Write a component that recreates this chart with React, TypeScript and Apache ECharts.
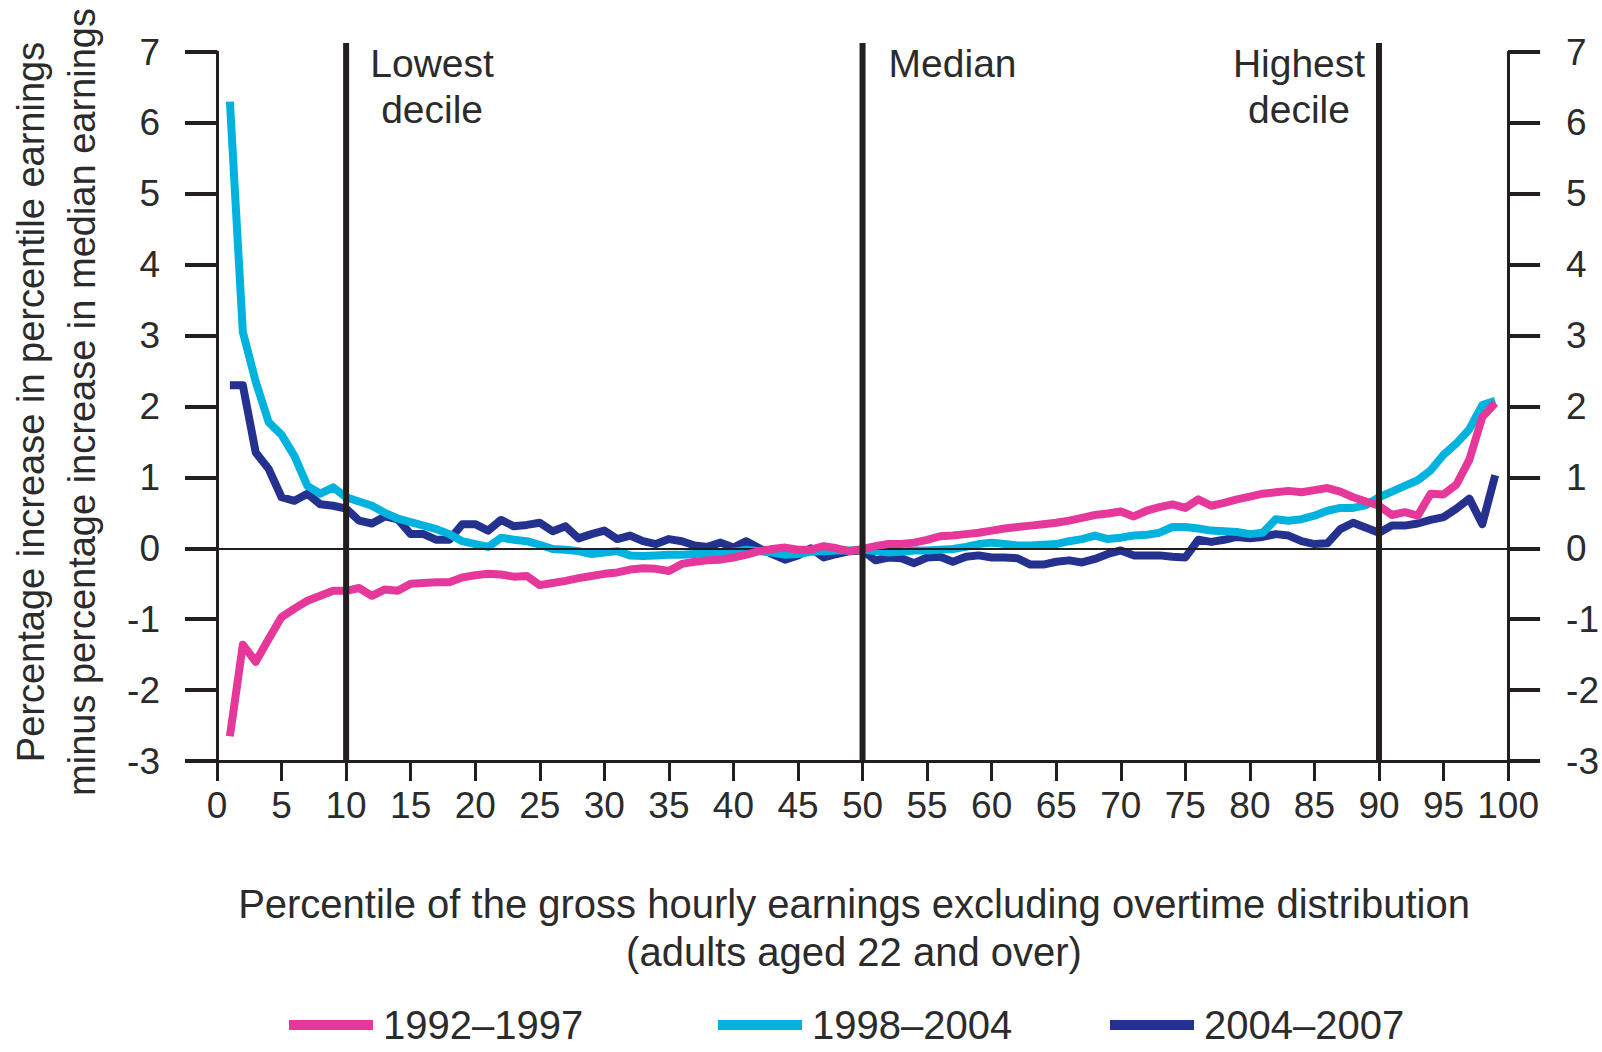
import React, { useEffect, useRef } from "react";
import * as echarts from "echarts";

const percentiles = [
  1, 2, 3, 4, 5, 6, 7, 8, 9, 10, 11, 12, 13, 14, 15, 16, 17, 18, 19, 20,
  21, 22, 23, 24, 25, 26, 27, 28, 29, 30, 31, 32, 33, 34, 35, 36, 37, 38, 39, 40,
  41, 42, 43, 44, 45, 46, 47, 48, 49, 50, 51, 52, 53, 54, 55, 56, 57, 58, 59, 60,
  61, 62, 63, 64, 65, 66, 67, 68, 69, 70, 71, 72, 73, 74, 75, 76, 77, 78, 79, 80,
  81, 82, 83, 84, 85, 86, 87, 88, 89, 90, 91, 92, 93, 94, 95, 96, 97, 98, 99,
];

const s1992_1997 = [
  -2.65, -1.36, -1.6, -1.28, -0.97, -0.85, -0.74, -0.67, -0.6, -0.6,
  -0.56, -0.67, -0.58, -0.6, -0.5, -0.49, -0.48, -0.48, -0.41, -0.38,
  -0.36, -0.37, -0.4, -0.39, -0.52, -0.49, -0.46, -0.42, -0.39, -0.36,
  -0.34, -0.3, -0.28, -0.29, -0.32, -0.22, -0.19, -0.17, -0.16, -0.13,
  -0.09, -0.04, -0.01, 0.01, -0.02, -0.02, 0.03, 0.0, -0.04, -0.01,
  0.03, 0.06, 0.06, 0.08, 0.12, 0.17, 0.18, 0.2, 0.22, 0.25,
  0.28, 0.3, 0.32, 0.34, 0.36, 0.39, 0.43, 0.47, 0.49, 0.52,
  0.45, 0.53, 0.58, 0.62, 0.57, 0.69, 0.6, 0.64, 0.69, 0.73,
  0.77, 0.79, 0.81, 0.79, 0.82, 0.85, 0.8, 0.72, 0.66, 0.6,
  0.47, 0.51, 0.46, 0.77, 0.76, 0.9, 1.25, 1.85, 2.05,
];

const s1998_2004 = [
  6.3, 3.05, 2.35, 1.78, 1.6, 1.3, 0.88, 0.77, 0.86, 0.72,
  0.66, 0.6, 0.5, 0.42, 0.37, 0.32, 0.27, 0.2, 0.1, 0.06,
  0.02, 0.15, 0.12, 0.1, 0.05, -0.01, -0.02, -0.04, -0.08, -0.06,
  -0.04, -0.1, -0.11, -0.1, -0.09, -0.09, -0.08, -0.07, -0.06, -0.05,
  -0.02, -0.04, -0.06, -0.09, -0.08, -0.05, -0.04, -0.03, -0.03, -0.02,
  -0.04, -0.06, -0.05, -0.03, -0.03, -0.02, -0.01, 0.02, 0.06, 0.08,
  0.06, 0.04, 0.04, 0.05, 0.06, 0.1, 0.13, 0.18, 0.13, 0.15,
  0.18, 0.19, 0.22, 0.3, 0.3, 0.28, 0.25, 0.24, 0.23, 0.2,
  0.22, 0.41, 0.39, 0.41, 0.46, 0.53, 0.57, 0.57, 0.61, 0.72,
  0.8, 0.88, 0.96, 1.1, 1.32, 1.48, 1.68, 2.02, 2.08,
];

const s2004_2007 = [
  2.3, 2.3, 1.35, 1.12, 0.72, 0.67, 0.77, 0.62, 0.6, 0.56,
  0.39, 0.35, 0.45, 0.41, 0.2, 0.2, 0.12, 0.12, 0.34, 0.34,
  0.25, 0.4, 0.31, 0.33, 0.36, 0.24, 0.31, 0.14, 0.2, 0.25,
  0.13, 0.18, 0.1, 0.06, 0.13, 0.1, 0.04, 0.02, 0.08, 0.01,
  0.1, 0.0, -0.08, -0.16, -0.1, 0.0, -0.13, -0.08, -0.04, -0.03,
  -0.17, -0.13, -0.14, -0.21, -0.13, -0.12, -0.19, -0.12, -0.1, -0.13,
  -0.13, -0.14, -0.23, -0.23, -0.19, -0.17, -0.2, -0.15, -0.08, -0.03,
  -0.1, -0.1, -0.1, -0.12, -0.13, 0.12, 0.09, 0.12, 0.16, 0.14,
  0.16, 0.2, 0.18, 0.1, 0.06, 0.07, 0.27, 0.36, 0.29, 0.22,
  0.32, 0.32, 0.35, 0.4, 0.44, 0.56, 0.7, 0.34, 1.03,
];

const seriesNames = ["1992\u20131997", "1998\u20132004", "2004\u20132007"];
const seriesColors = ["#E5389A", "#00B3DE", "#24318F"];

const decileMarks = [10, 50, 90];
const decileLabels = ["Lowest\ndecile", "Median", "Highest\ndecile"];

const xMin = 0;
const xMax = 100;
const xInterval = 5;
const yMin = -3;
const yMax = 7;
const yInterval = 1;

const yAxisTitle =
  "Percentage increase in percentile earnings\nminus percentage increase in median earnings";
const xAxisTitle =
  "Percentile of the gross hourly earnings excluding overtime distribution\n(adults aged 22 and over)";

const FONT = "'Liberation Sans', Arial, Helvetica, sans-serif";
const INK = "#231f20";
const TEXT = "#2b2b2b";

export default function App() {
  const ref = useRef<HTMLDivElement>(null);

  useEffect(() => {
    document.body.style.margin = "0";
    if (!ref.current) return;
    const chart = echarts.init(ref.current, undefined, { renderer: "svg" });

    const toPairs = (vals: number[]) => percentiles.map((p, i) => [p, vals[i]]);
    const allSeries = [s1992_1997, s1998_2004, s2004_2007];

    const yAxisCommon = {
      type: "value" as const,
      min: yMin,
      max: yMax,
      interval: yInterval,
      axisLine: { show: true, lineStyle: { color: INK, width: 3 } },
      axisTick: { show: true, length: 32, lineStyle: { color: INK, width: 4 } },
      splitLine: { show: false },
    };

    const option: any = {
      animation: false,
      textStyle: { fontFamily: FONT },
      grid: { left: 217, right: 82, top: 52, bottom: 291, containLabel: false },
      xAxis: {
        type: "value",
        min: xMin,
        max: xMax,
        interval: xInterval,
        axisLine: { show: true, onZero: false, lineStyle: { color: INK, width: 3 } },
        axisTick: { show: true, length: 20, lineStyle: { color: INK, width: 3 } },
        splitLine: { show: false },
        axisLabel: { fontSize: 37, color: TEXT, margin: 26, fontFamily: FONT },
      },
      yAxis: [
        {
          ...yAxisCommon,
          position: "left",
          axisLabel: { fontSize: 37, color: TEXT, margin: 57, fontFamily: FONT },
        },
        {
          ...yAxisCommon,
          position: "right",
          axisLabel: { fontSize: 37, color: TEXT, margin: 58, fontFamily: FONT },
        },
      ],
      legend: seriesNames.map((name, i) => ({
        data: [name],
        left: [289, 718, 1110][i],
        top: 1005,
        padding: 0,
        icon: "rect",
        itemWidth: 84,
        itemHeight: 10,
        textStyle: {
          fontSize: 40,
          color: TEXT,
          fontFamily: FONT,
          padding: [0, 0, 0, 5],
        },
      })),
      graphic: [
        {
          type: "text",
          x: 56,
          y: 402,
          rotation: Math.PI / 2,
          style: {
            text: yAxisTitle,
            fontSize: 38,
            lineHeight: 51,
            fill: TEXT,
            fontFamily: FONT,
            align: "center",
            verticalAlign: "middle",
          },
        },
        {
          type: "text",
          x: 854,
          y: 928,
          style: {
            text: xAxisTitle,
            fontSize: 40,
            lineHeight: 48,
            fill: TEXT,
            fontFamily: FONT,
            align: "center",
            verticalAlign: "middle",
          },
        },
      ],
      series: [
        // draw order: navy bottom, cyan, pink top
        ...[2, 1, 0].map((i) => ({
          name: seriesNames[i],
          type: "line",
          data: toPairs(allSeries[i]),
          showSymbol: false,
          symbol: "none",
          color: seriesColors[i],
          lineStyle: { width: 8, color: seriesColors[i], join: "round" },
          z: 3 + (2 - i),
          silent: true,
        })),
        {
          type: "custom",
          name: "deciles",
          data: decileMarks.map((m, i) => [m, yMax, i]),
          encode: { x: 0, y: 1 },
          clip: false,
          silent: true,
          z: 10,
          renderItem: (params: any, api: any) => {
            const x = api.value(0);
            const idx = api.value(2);
            const top = api.coord([x, yMax]);
            const bot = api.coord([x, yMin]);
            const label = decileLabels[idx];
            const labelDx = [86, 90, -80][idx];
            return {
              type: "group",
              children: [
                {
                  type: "line",
                  shape: { x1: top[0], y1: top[1] - 9, x2: bot[0], y2: bot[1] },
                  style: { stroke: INK, lineWidth: 6 },
                },
                {
                  type: "text",
                  x: top[0] + labelDx,
                  y: top[1] - 12,
                  style: {
                    text: label,
                    fontSize: 39,
                    lineHeight: 46,
                    fill: TEXT,
                    fontFamily: FONT,
                    align: "center",
                    verticalAlign: "top",
                  },
                },
              ],
            };
          },
          markLine: {
            silent: true,
            symbol: "none",
            label: { show: false },
            lineStyle: { color: INK, width: 2, type: "solid" },
            data: [{ yAxis: 0 }],
          },
        },
      ],
    };

    chart.setOption(option);
    return () => chart.dispose();
  }, []);

  return <div ref={ref} style={{ width: 1602, height: 1052 }} />;
}
